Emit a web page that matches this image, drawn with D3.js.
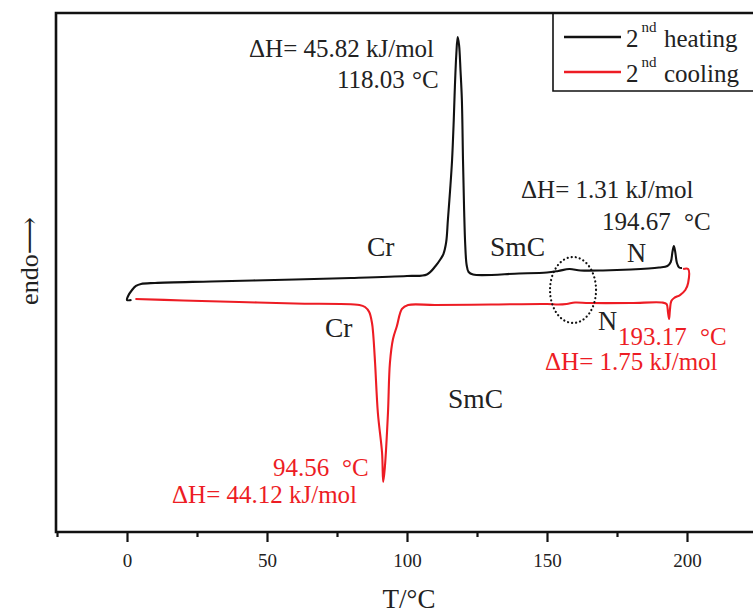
<!DOCTYPE html>
<html>
<head>
<meta charset="utf-8">
<script src="https://cdn.jsdelivr.net/npm/d3@7"></script>
<style>
html,body{margin:0;padding:0;background:#fff;}
svg{display:block;font-family:"Liberation Serif","DejaVu Serif",serif;}
</style>
</head>
<body>
<svg id="chart" width="753" height="614"></svg>
<script>
// ---- data ----
const heatingT = [1.6,0,0.4,1.8,3.2,5,10,30,60,80,100,107.1,110.2,112,113,114,114.6,115.4,116.1,116.7,117.1,117.6,118.1,118.6,119.1,119.6,120.0,120.4,120.8,121.3,122.0,123.6,140,150,154,158,162,170,180,190,193,194.2,194.8,195.3,195.8,196.4,197.2,198.2];
const heatingV = [44.70,44.70,45.47,46.63,47.40,47.78,47.98,48.27,48.65,48.94,49.33,49.61,51.25,52.60,53.56,55.88,60.12,65.90,71.68,79.38,85.74,91.91,95.38,93.83,89.02,83.24,71.68,62.04,55.30,51.45,50.10,49.61,49.81,50.00,50.29,50.67,50.39,50.39,50.58,50.96,51.25,52.02,53.95,55.11,53.95,51.83,50.96,50.87];
const coolingT = [198.6,200.4,200.4,199.4,197.5,195.4,194.4,193.9,193.6,193.2,192.7,191,180,165,160,157,154,150,130,110,100.4,98.2,96.4,95.0,93.9,93.2,92.1,91.5,91.1,89.6,88.6,87.9,87.5,86.5,85.0,83,60,40,20,3];
const coolingV = [50.67,50.67,47.98,46.63,45.66,45.09,44.51,42.77,41.04,42.39,43.93,44.22,44.12,44.12,44.22,43.93,43.83,43.93,43.83,43.74,43.74,42.97,39.69,37.19,32.56,22.93,12.52,9.63,15.22,22.93,32.56,38.34,40.27,42.39,43.35,43.74,44.03,44.32,44.61,44.89];
const xMajorTicks = [0,50,100,150,200];
const xMinorTicks = [-25,25,75,125,175,225];
const seriesNames = ["heating","cooling"];

// ---- layout ----
const svg = d3.select("#chart");
const leftX = 56, topY = 13, bottomY = 532;
const x = d3.scaleLinear().domain([-25,225]).range([57,757]);
const y = d3.scaleLinear().domain([0,100]).range([bottomY, topY]);
const BLACK = "#111111", RED = "#ed1c24";

// frame
svg.append("path")
  .attr("d", `M${x(225)+20},${topY}H${leftX}V${bottomY}H${x(225)+20}`)
  .attr("fill","none").attr("stroke",BLACK).attr("stroke-width",2.6);

// x axis ticks
const ax = svg.append("g").attr("transform",`translate(0,${bottomY})`);
ax.call(d3.axisBottom(x).tickValues(xMajorTicks).tickSize(10).tickFormat(d3.format("d")))
  .call(g=>g.select(".domain").remove())
  .call(g=>g.selectAll(".tick line").attr("stroke",BLACK).attr("stroke-width",2.2))
  .call(g=>g.selectAll(".tick text").attr("font-size",19).attr("fill","#222")
        .attr("font-family","Liberation Serif").attr("dy",0).attr("y",35));
const axm = svg.append("g").attr("transform",`translate(0,${bottomY})`);
axm.call(d3.axisBottom(x).tickValues(xMinorTicks).tickSize(5).tickFormat(""))
  .call(g=>g.select(".domain").remove())
  .call(g=>g.selectAll(".tick line").attr("stroke",BLACK).attr("stroke-width",2.2));

// axis titles
svg.append("text").attr("x",409).attr("y",608).attr("text-anchor","middle")
  .attr("font-size",27).attr("fill","#222").text("T/°C");
svg.append("text").attr("transform","translate(38,261) rotate(-90)").attr("text-anchor","middle")
  .attr("font-size",26).attr("fill","#222").text("endo⟶");

// curves
const line = d3.line().x(d=>x(d[0])).y(d=>y(d[1])).curve(d3.curveCatmullRom.alpha(0.5));
const heating = heatingT.map((t,i)=>[t,heatingV[i]]);
const cooling = coolingT.map((t,i)=>[t,coolingV[i]]);
svg.append("path").datum(cooling).attr("d",line).attr("fill","none")
  .attr("stroke",RED).attr("stroke-width",2.1).attr("stroke-linejoin","round");
svg.append("path").datum(heating).attr("d",line).attr("fill","none")
  .attr("stroke",BLACK).attr("stroke-width",2.1).attr("stroke-linejoin","round");

// dotted ellipse
svg.append("ellipse").attr("cx",x(159.3)).attr("cy",y(46.63)).attr("rx",23).attr("ry",33)
  .attr("fill","none").attr("stroke",BLACK).attr("stroke-width",2.2)
  .attr("stroke-dasharray","0.1,4").attr("stroke-linecap","round");

// annotations
function txt(s, xx, yy, size, color){
  svg.append("text").attr("x",xx).attr("y",yy).attr("font-size",size).attr("fill",color).text(s);
}
const AS = 25, PS = 27.5;
txt("ΔH= 45.82 kJ/mol",249,57,AS,"#222");
txt("118.03",337,88,AS,"#222"); txt("°C",412,88,AS,"#222");
txt("ΔH= 1.31 kJ/mol",521,198,AS,"#222");
txt("194.67",602,230,AS,"#222"); txt("°C",684,230,AS,"#222");
txt("193.17",618,345,AS,RED); txt("°C",700,345,AS,RED);
txt("ΔH= 1.75 kJ/mol",545,370,AS,RED);
txt("94.56",273,476,AS,RED); txt("°C",342,476,AS,RED);
txt("ΔH= 44.12 kJ/mol",172,503,AS,RED);
txt("Cr",367,256,PS,"#222");
txt("SmC",490,256,PS,"#222");
txt("N",627,262,26.5,"#222");
txt("Cr",325,337,PS,"#222");
txt("SmC",448,408,PS,"#222");
txt("N",598,330,26.5,"#222");

// legend
svg.append("path").attr("d",`M${x(225)+20},91H553V${topY}`)
  .attr("fill","none").attr("stroke",BLACK).attr("stroke-width",1.6);
const legColors = [BLACK, RED];
const legY = [37,72];
seriesNames.forEach((n,i)=>{
  svg.append("line").attr("x1",564).attr("x2",621).attr("y1",legY[i]).attr("y2",legY[i])
    .attr("stroke",legColors[i]).attr("stroke-width",2.6);
  const t = svg.append("text").attr("x",626).attr("y",legY[i]+9.5).attr("font-size",25).attr("fill","#222");
  t.append("tspan").text("2");
  t.append("tspan").attr("font-size",15).attr("dx",3).attr("dy",-15).text("nd");
  t.append("tspan").attr("x",664).attr("dy",15).text(n);
});
</script>
</body>
</html>
